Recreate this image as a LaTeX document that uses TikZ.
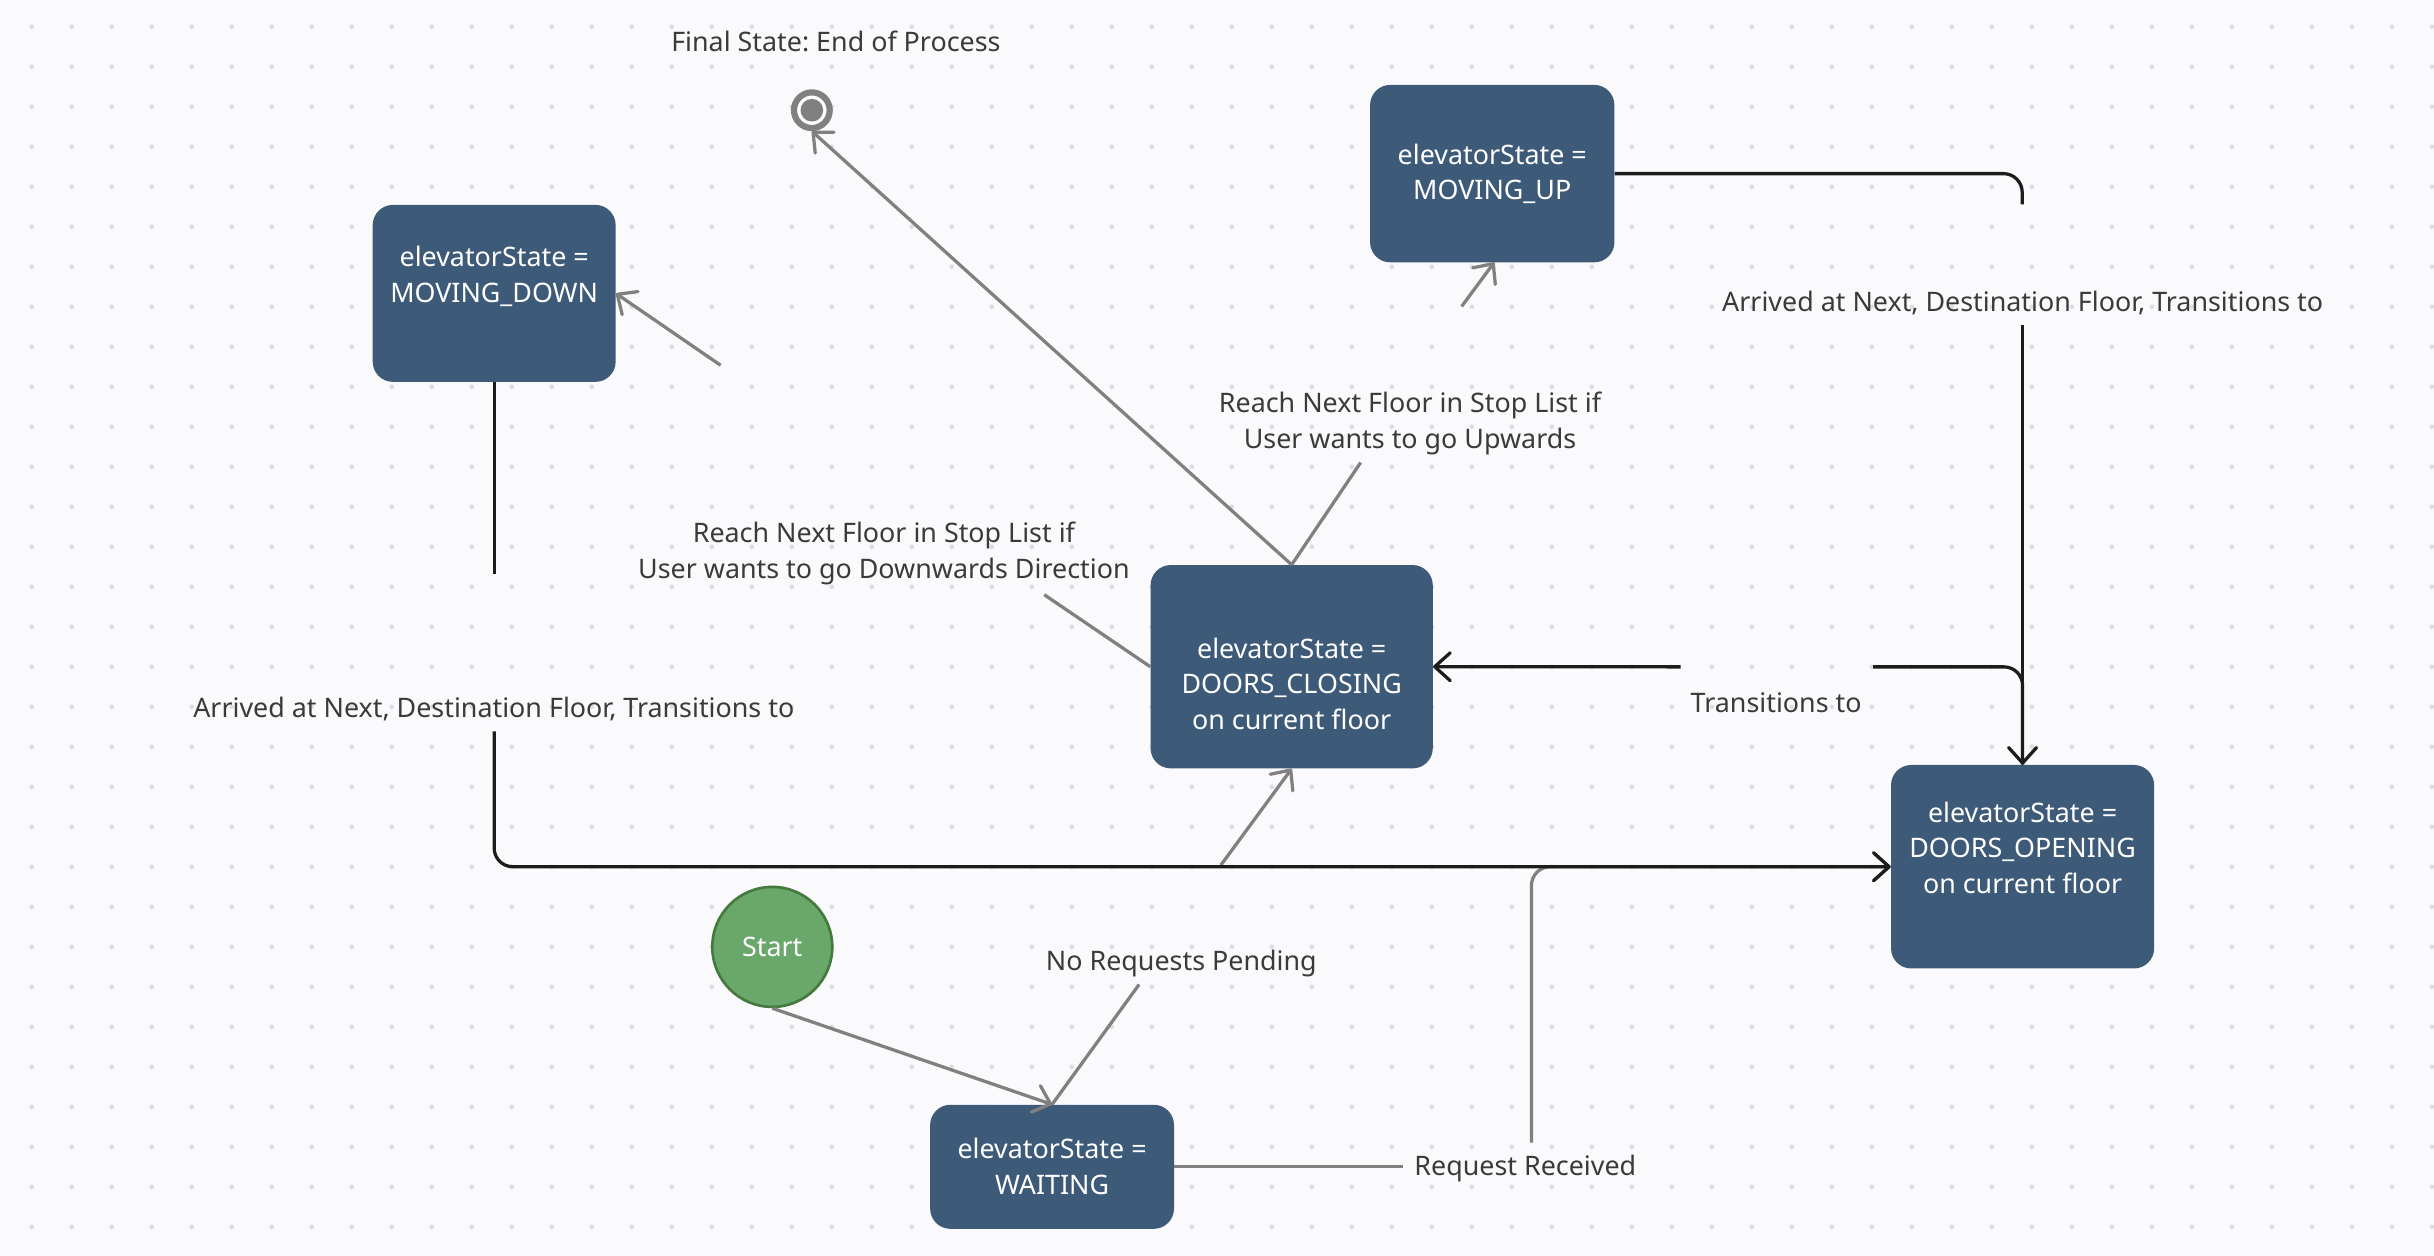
\documentclass[tikz,border=0pt]{standalone}
\usepackage{fontspec}
\setmainfont{Noto Sans}
\usetikzlibrary{arrows.meta}
\frenchspacing
\definecolor{bgc}{HTML}{FAFAFC}
\definecolor{dotc}{HTML}{DCDCE2}
\definecolor{boxc}{HTML}{3D5A78}
\definecolor{startfill}{HTML}{6AA76A}
\definecolor{startdraw}{HTML}{457A3F}
\definecolor{grayline}{HTML}{808080}
\definecolor{darkline}{HTML}{1C1C1C}
\definecolor{labelc}{HTML}{3A3A3A}
\begin{document}
\begin{tikzpicture}[x=1pt,y=-1pt,
  statebox/.style={draw=none, fill=boxc, rounded corners=13pt, inner sep=0pt},
  boxtext/.style={text=white, align=center, font=\fontsize{17.3}{23}\selectfont, anchor=base, inner sep=0pt},
  lbl/.style={text=labelc, align=center, font=\fontsize{17.3}{23}\selectfont, anchor=base, inner sep=0pt},
  gline/.style={draw=grayline, line width=2.1pt},
  bline/.style={draw=darkline, line width=2.1pt},
  barb/.style={-{Straight Barb[length=10pt,width=18pt,round]}},
]
% background
\fill[bgc] (0,0) rectangle (1568,809);
\useasboundingbox (0,0) rectangle (1568,809);
\foreach \i in {0,...,60}{\foreach \j in {0,...,30}{\fill[dotc] (20.4+25.77*\i, 17.2+25.77*\j) circle[radius=1.5pt];}}

% states
\node[statebox, minimum width=156.5pt, minimum height=114pt] (mdown) at (318.35,189) {};
\node[statebox, minimum width=157.4pt, minimum height=114.3pt] (mup) at (961.3,111.85) {};
\node[statebox, minimum width=181.8pt, minimum height=131pt] (dclose) at (832.1,429.5) {};
\node[statebox, minimum width=169.5pt, minimum height=131.1pt] (dopen) at (1302.95,558.35) {};
\node[statebox, minimum width=157.1pt, minimum height=79.9pt] (wait) at (677.75,751.65) {};

\node[circle, fill=startfill, draw=startdraw, line width=1.7pt, minimum size=77.3pt, inner sep=0pt,
      text=white, font=\fontsize{17.3}{23}\selectfont] (start) at (497.5,610) {Start};
\node[circle, draw=grayline, line width=4pt, fill=white, minimum size=23pt, inner sep=0pt] (final) at (523,71) {};
\fill[grayline] (final.center) circle[radius=7.3pt];

% labels (anchor = baseline of the last line)
\node[lbl] (lfinal) at (538.5,33) {Final State: End of Process};
\node[lbl] (lup) at (908.3,289) {Reach Next Floor in Stop List if\\User wants to go Upwards};
\node[lbl] (ldown) at (569.4,372.5) {Reach Next Floor in Stop List if\\User wants to go Downwards Direction};
\node[lbl] (larrR) at (1303,200.7) {Arrived at Next, Destination Floor, Transitions to};
\node[lbl] (larrL) at (318.1,462) {Arrived at Next, Destination Floor, Transitions to};
\node[lbl] (ltrans) at (1144.2,459.3) {Transitions to};
\node[lbl] (lnoreq) at (761,625.2) {No Requests Pending};
\node[lbl] (lreq) at (982.6,757.5) {Request Received};

% free ends
\coordinate (upA) at (876.5,298);
\coordinate (upB) at (941.6,197.4);
\coordinate (upTip) at (962.6,169);
\coordinate (dnA) at (672.7,383.1);
\coordinate (dnB) at (464.2,235.3);
\coordinate (rA) at (1302.7,111.85);
\coordinate (rB) at (1302.7,131.6);
\coordinate (rC) at (1302.95,209.5);
\coordinate (tA) at (1302.95,429.6);
\coordinate (tB) at (1206.7,429.6);
\coordinate (tC) at (1082.6,429.6);
\coordinate (lA) at (318.35,369.7);
\coordinate (lB) at (318.35,471.1);
\coordinate (lC) at (318.35,558.35);
\coordinate (nA) at (733.8,634.2);
\coordinate (nB) at (786.5,557.3);
\coordinate (qA) at (904,751.65);
\coordinate (qB) at (986.6,736.1);
\coordinate (qC) at (986.6,558.35);

% gray connectors
\draw[gline,barb] (dclose.north) -- (final.south);
\draw[gline] (dclose.north) -- (upA);
\draw[gline,barb] (upB) -- (upTip);
\draw[gline] (dclose.west) -- (dnA);
\draw[gline,barb] (dnB) -- (mdown.east);
\draw[gline] (wait.north) -- (nA);
\draw[gline,barb] (nB) -- (dclose.south);
\draw[gline,barb] (start.south) -- (wait.north);
\draw[gline] (wait.east) -- (qA);
\draw[gline,barb,rounded corners=12pt] (qB) -- (qC) -- (dopen.west);

% dark connectors
\draw[bline,rounded corners=12pt] (mup.east) -- (rA) -- (rB);
\draw[bline,barb] (rC) -- (dopen.north);
\draw[bline,rounded corners=12pt] (dopen.north) -- (tA) -- (tB);
\draw[bline,barb] (tC) -- (dclose.east);
\draw[bline] (mdown.south) -- (lA);
\draw[bline,barb,rounded corners=12pt] (lB) -- (lC) -- (dopen.west);

% state texts (anchor = baseline of the last line)
\node[boxtext] (mdownt) at (318.35,194.6) {elevatorState =\\MOVING\_DOWN};
\node[boxtext] (mupt) at (961.3,128.8) {elevatorState =\\MOVING\_UP};
\node[boxtext] (dcloset) at (832.1,470) {elevatorState =\\DOORS\_CLOSING\\on current floor};
\node[boxtext] (dopent) at (1302.95,575.7) {elevatorState =\\DOORS\_OPENING\\on current floor};
\node[boxtext] (waitt) at (677.75,769.4) {elevatorState =\\WAITING};
\end{tikzpicture}
\end{document}
